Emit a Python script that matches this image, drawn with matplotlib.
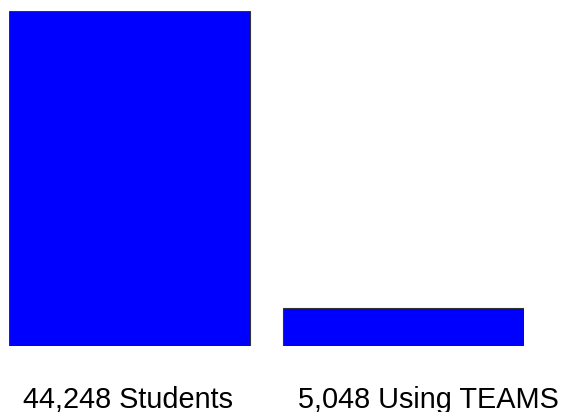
import matplotlib
matplotlib.use("Agg")
import matplotlib.pyplot as plt

categories = ["44,248 Students", "5,048 Using TEAMS"]
values = [44248, 5048]

plt.rcParams["font.family"] = ["Liberation Sans", "DejaVu Sans"]

fig = plt.figure(figsize=(5.66, 4.12), dpi=100)
W, H = 566, 412

bar_w = 0.878
ax = fig.add_axes([9 / W, (H - 346) / H, (524 - 9) / W, 335 / H])
ax.bar(range(len(values)), values, width=bar_w, color="#0000ff",
       edgecolor="#333333", linewidth=0.8)
ax.set_xlim(-bar_w / 2, len(values) - 1 + bar_w / 2)
ax.set_ylim(0, max(values))
ax.axis("off")

# labels below the bars
label_x = [128 / W, 428 / W]
for lx, txt in zip(label_x, categories):
    fig.text(lx, (H - 408) / H, txt, ha="center", va="baseline",
             fontsize=20.8, color="black")

fig.savefig("out.png", dpi=100)
